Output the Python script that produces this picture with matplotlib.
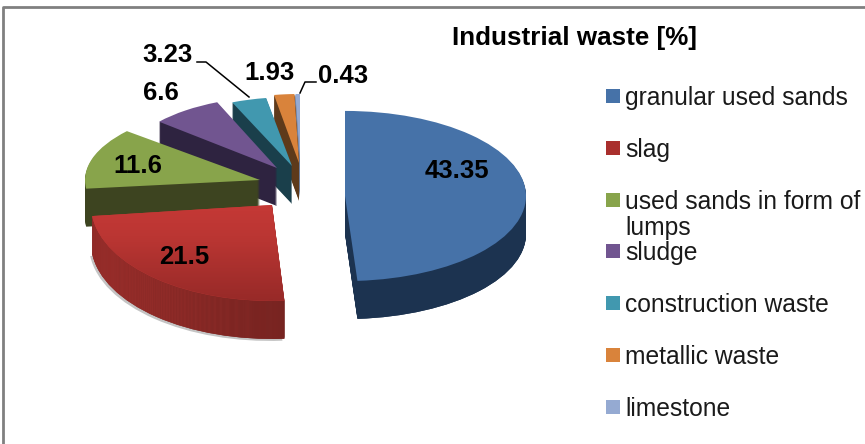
import numpy as np
import matplotlib
matplotlib.use("Agg")
import matplotlib.pyplot as plt
from matplotlib.colors import LinearSegmentedColormap
from matplotlib.patches import Rectangle
from matplotlib.transforms import Affine2D

plt.rcParams['font.family'] = ['Liberation Sans', 'DejaVu Sans']

# data
categories = ["granular used sands", "slag", "used sands in form of\nlumps", "sludge",
              "construction waste", "metallic waste", "limestone"]
values = [43.35, 21.5, 11.6, 6.6, 3.23, 1.93, 0.43]

# colours: top face, side face
top_colors = ["#4672a8", "#c23a37", "#88a44b", "#715590", "#4198af", "#d9833b", "#95aad2"]
side_colors = ["#1c3350", "#6d201d", "#3d4420", "#2e2340", "#1a3f4b", "#5e3a1a", "#6f7f9c"]
swatch_colors = ["#4672a8", "#a92f2d", "#88a44b", "#715590", "#4198af", "#d9833b", "#95aad2"]

# slice placement in pixels (the source is a perspective 3D pie, so each slice gets its own)
apex_x = [345, 272, 260, 277, 292, 299, 300]
apex_y = [196, 205, 180, 168, 166, 163, 160]
radius = [181, 181, 175, 155, 155, 150, 150]
squash = [0.47, 0.53, 0.43, 0.46, 0.445, 0.46, 0.44]
draw_order = [6, 5, 4, 3, 2, 1, 0]
depth = 38

# value label centres in pixels
label_x = [457, 184, 138, 161, 167, 270, 343]
label_y = [171, 257, 166, 93, 55, 73, 76]

fig = plt.figure(figsize=(8.65, 4.44), dpi=100)
ax = fig.add_axes([0, 0, 1, 1])


def slice_transform(i, shift=0.0):
    return (Affine2D().scale(1, -squash[i]).translate(apex_x[i], apex_y[i] + shift)
            + ax.transData)


def gradient_fill(wedge, i, colors, vertical, z, shift=0.0):
    # paint a gradient over one wedge, clipped to its outline
    cmap = LinearSegmentedColormap.from_list("g", colors)
    ramp = np.linspace(0, 1, 64).reshape(-1, 1) if vertical else np.linspace(0, 1, 64).reshape(1, -1)
    ry = radius[i] * squash[i]
    im = ax.imshow(ramp, cmap=cmap, aspect='auto', zorder=z,
                   extent=(apex_x[i] - radius[i], apex_x[i] + radius[i],
                           apex_y[i] + ry + shift, apex_y[i] - ry + shift))
    im.set_clip_path(wedge)


# soft shadow under the red slice
shadow, _ = ax.pie(values, startangle=90, counterclock=False, radius=1,
                   colors=["#c4c4c4"] * 7, wedgeprops={'linewidth': 0})
for i, w in enumerate(shadow):
    w.set_radius(radius[i])
    w.set_transform(Affine2D().translate(-2, 0) + slice_transform(i, depth + 2))
    w.set_zorder(draw_order[i] + 0.001)
    w.set_visible(i == 1)

# side walls: the same pie stacked downwards
shifts = np.arange(depth, 0, -1.0)
for k, s in enumerate(shifts):
    layer, _ = ax.pie(values, startangle=90, counterclock=False, radius=1,
                      colors=side_colors, wedgeprops={'linewidth': 0})
    for i, w in enumerate(layer):
        w.set_radius(radius[i])
        w.set_transform(slice_transform(i, s))
        z = draw_order[i] + 0.01 + k * 0.01
        w.set_zorder(z)
        if i == 0:
            gradient_fill(w, i, ["#3a6190", "#1c3350", "#1c3350", "#1c3350"], False, z, s)
        if i == 1:
            gradient_fill(w, i, ["#a5322f", "#7c2623", "#5a1814"], False, z, s)

# top faces
tops, _ = ax.pie(values, startangle=90, counterclock=False, radius=1,
                 colors=top_colors, wedgeprops={'linewidth': 0})
for i, w in enumerate(tops):
    w.set_radius(radius[i])
    w.set_transform(slice_transform(i))
    w.set_zorder(draw_order[i] + 0.9)
gradient_fill(tops[1], 1, ["#cf3b38", "#cf3b38", "#bb3633", "#982a28"], True, draw_order[1] + 0.9)

for x, y, v in zip(label_x, label_y, values):
    ax.text(x, y, str(v), ha='center', va='center', fontsize=18.5, fontweight='bold',
            color='black', zorder=20)

# leader lines
ax.plot([197, 206, 249], [62, 62, 97], color='black', lw=1.1, zorder=20)
ax.plot([316, 305, 300], [82, 82, 93], color='black', lw=1.1, zorder=20)

ax.text(574, 38, "Industrial waste [%]", ha='center', va='center', fontsize=18.7,
        fontweight='bold', color='black')

# legend rows are evenly spaced, the wrapped label just runs into the next row
for i, name in enumerate(categories):
    row = 96 + i * 51.8
    ax.add_patch(Rectangle((606, row - 7), 14, 14, facecolor=swatch_colors[i], edgecolor='none'))
    ax.text(625, row - 10, name, ha='left', va='top', fontsize=17.7, color='#1a1a1a',
            linespacing=1.12)

# chart frame, only top and left are inside the crop
ax.plot([3, 3, 870], [450, 7, 7], color='#808080', lw=2.0)

ax.set_aspect('auto')
ax.set_xlim(0, 865)
ax.set_ylim(444, 0)
ax.axis('off')
fig.savefig("out.png", dpi=100)
